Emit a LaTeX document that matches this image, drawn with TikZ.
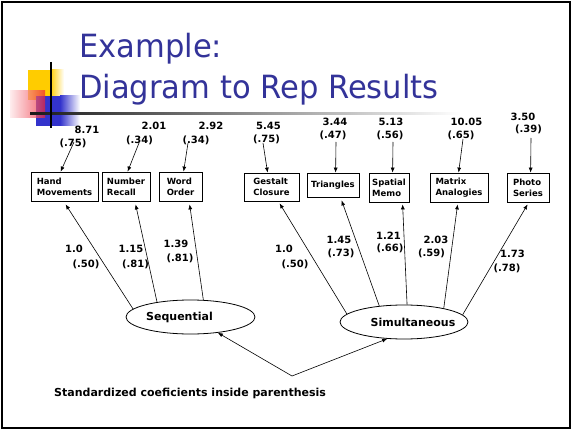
\documentclass[tikz,border=0pt]{standalone}
\usepackage{fontspec}
\setmainfont{DejaVu Sans}
\newfontfamily\titlefont[FakeStretch=0.955]{DejaVu Sans}
\usetikzlibrary{arrows.meta,calc,shapes.geometric}
\definecolor{titleblue}{HTML}{333399}
\definecolor{decoyellow}{HTML}{FFCC00}
\definecolor{decoblue}{HTML}{3333CC}
\definecolor{decored}{HTML}{EE2233}
\begin{document}
\begin{tikzpicture}[x=1pt,y=-1pt,
  num/.style={font=\bfseries\fontsize{10}{12}\selectfont, inner sep=0pt},
  test/.style={draw, line width=0.8pt, font=\bfseries\fontsize{8.5}{11}\selectfont,
               align=left, inner sep=0pt},
  latent/.style={draw, ellipse, line width=0.8pt, inner sep=0pt},
  latname/.style={font=\bfseries\fontsize{11}{13}\selectfont, inner sep=0pt},
  conn/.style={line width=0.6pt, -{Latex[length=5pt,width=4pt]}},
  heading/.style={anchor=base west, inner sep=0pt, text=titleblue,
                  font=\titlefont\fontsize{32}{38}\selectfont},
]
\useasboundingbox (0,0) rectangle (572,430);
\draw[line width=1.6pt] (2,2) rectangle (570,428);

% corner ornament: three overlapping squares and a cross of rules
\fill[decoyellow] (28,70) rectangle (50,100);
\shade[left color=decoyellow, right color=white] (50,70) rectangle (64,100);
\fill[decoblue] (36,96) rectangle (60,126);
\shade[left color=decoblue, right color=white] (60,96) rectangle (80,126);
\shade[left color=decored!12, right color=decored, opacity=0.7] (10,91) rectangle (45,118);
\shade[left color=black!90, right color=white] (30,113) rectangle (460,115);
\draw[line width=1.5pt] (51,62) -- (51,128);

% heading
\node[heading] (t1) at (79,58) {Example:};
\node[heading] (t2) at (79,99) {Diagram to Rep Results};

% observed subtests
\node[test, minimum width=67pt, minimum height=29pt] (hm) at (64.5,186.5) {Hand\\Movements};
\node[test, minimum width=48pt, minimum height=29pt] (nr) at (126,186.5) {Number\\Recall};
\node[test, minimum width=43pt, minimum height=29pt] (wo) at (180.5,186.5) {Word\\Order};
\node[test, minimum width=55pt, minimum height=28pt] (gc) at (271.5,187) {Gestalt\\Closure};
\node[test, minimum width=52pt, minimum height=24pt] (tr) at (333,185) {Triangles};
\node[test, minimum width=40pt, minimum height=29pt] (sm) at (389,187.5) {Spatial\\Memo};
\node[test, minimum width=58pt, minimum height=29pt] (ma) at (459,187.5) {Matrix\\Analogies};
\node[test, minimum width=42pt, minimum height=29pt] (ps) at (528,187.5) {Photo\\Series};

% latent factors
\node[latent, minimum width=129pt, minimum height=34pt] (seq) at (190.5,317) {};
\node[latname] (seqt) at (179.5,317.5) {Sequential};
\node[latent, minimum width=128pt, minimum height=34pt] (sim) at (404,322) {};
\node[latname] (simt) at (413,322) {Simultaneous};

% error variances
\node[num] (v1a) at (87,130) {8.71};   \node[num] (v1b) at (73,143.5) {(.75)};
\node[num] (v2a) at (154,126) {2.01};  \node[num] (v2b) at (139.5,140) {(.34)};
\node[num] (v3a) at (211,126) {2.92};  \node[num] (v3b) at (196,140) {(.34)};
\node[num] (v4a) at (268.5,125.5) {5.45}; \node[num] (v4b) at (266.5,139) {(.75)};
\node[num] (v5a) at (335,121.5) {3.44};   \node[num] (v5b) at (333,135) {(.47)};
\node[num] (v6a) at (391,121.5) {5.13};   \node[num] (v6b) at (390,135) {(.56)};
\node[num] (v7a) at (466.5,121.5) {10.05}; \node[num] (v7b) at (461,135) {(.65)};
\node[num] (v8a) at (523,116.5) {3.50};   \node[num] (v8b) at (528.5,129.5) {(.39)};

\coordinate (s1) at (74,142);
\coordinate (s2) at (139,143);
\coordinate (s3) at (188,143);
\coordinate (s4) at (263,143);
\coordinate (s5) at (336,142);
\coordinate (s6) at (393,142);
\coordinate (s7) at (463,139);
\coordinate (s8) at (531,138);
\draw[conn] (s1) -- ($(hm.north west)+(30,0)$);
\draw[conn] (s2) -- ($(nr.north west)+(26,0)$);
\draw[conn] (s3) -- ($(wo.north west)+(25,0)$);
\draw[conn] (s4) -- ($(gc.north west)+(24,0)$);
\draw[conn] (s5) -- ($(tr.north west)+(29,0)$);
\draw[conn] (s6) -- ($(sm.north west)+(24,0)$);
\draw[conn] (s7) -- ($(ma.north west)+(29,0)$);
\draw[conn] (s8) -- ($(ps.north west)+(24,0)$);

% loadings
\node[num] (l1a) at (74,249) {1.0};     \node[num] (l1b) at (86,264.5) {(.50)};
\node[num] (l2a) at (131,249) {1.15};   \node[num] (l2b) at (135.5,264.5) {(.81)};
\node[num] (l3a) at (176,244) {1.39};   \node[num] (l3b) at (180,258) {(.81)};
\node[num] (l4a) at (284,249) {1.0};    \node[num] (l4b) at (295,264.5) {(.50)};
\node[num] (l5a) at (339,239.5) {1.45}; \node[num] (l5b) at (341,253) {(.73)};
\node[num] (l6a) at (388.5,235.5) {1.21}; \node[num] (l6b) at (390,248) {(.66)};
\node[num] (l7a) at (436,239.5) {2.03}; \node[num] (l7b) at (431.5,253) {(.59)};
\node[num] (l8a) at (512.5,254) {1.73}; \node[num] (l8b) at (507,268) {(.78)};

\draw[conn] (seq.172) -- ($(hm.south west)+(35,3)$);
\draw[conn] (seq.156) -- ($(nr.south west)+(34,3)$);
\draw[conn] (seq.53)  -- ($(wo.south west)+(31,3)$);
\draw[conn] (sim.172) -- ($(gc.south west)+(36,2)$);
\draw[conn] (sim.147) -- ($(tr.south west)+(35,3)$);
\draw[conn] (sim.80)  -- ($(sm.south west)+(34,2)$);
\draw[conn] (sim.19)  -- ($(ma.south west)+(28,2)$);
\draw[conn] (sim.7)   -- ($(ps.south west)+(21,2)$);

% factor correlation
\coordinate (apex) at (292,376);
\draw[conn] (apex) -- (seq.330);
\draw[conn] (apex) -- (sim.225);

\node[anchor=west, inner sep=0pt, font=\bfseries\fontsize{11}{13}\selectfont] (note) at (54,393)
  {Standardized coeficients inside parenthesis};
\end{tikzpicture}
\end{document}
